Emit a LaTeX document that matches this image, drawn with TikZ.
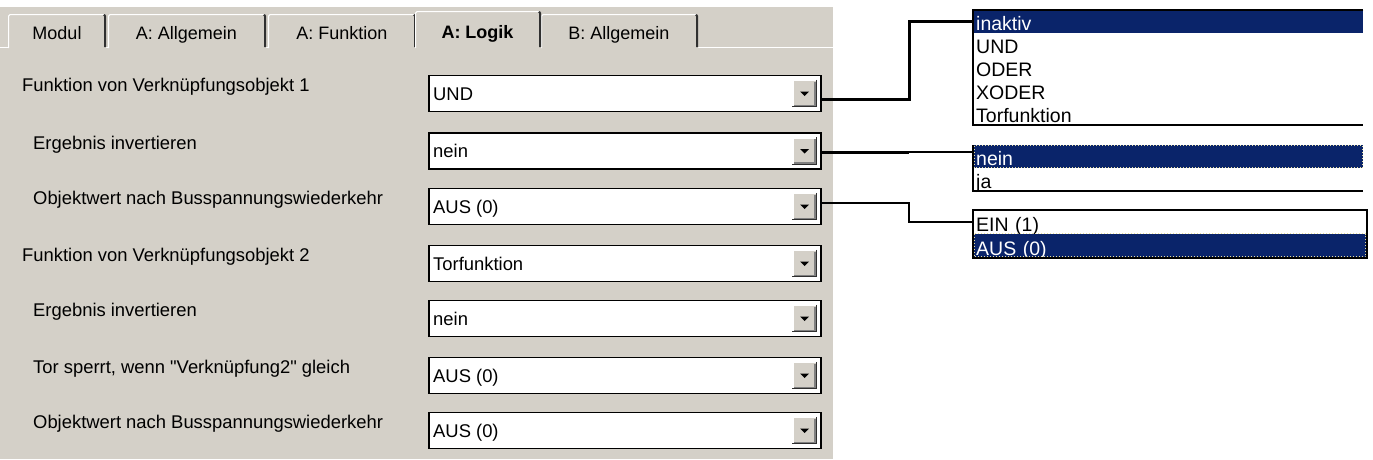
\documentclass[tikz,border=0pt]{standalone}
\usepackage{fontspec}
\setmainfont[Ligatures=TeXOff]{Liberation Sans}
\usetikzlibrary{calc}
\definecolor{winGrey}{HTML}{D4D0C8}
\definecolor{winNavy}{HTML}{0A246A}
\definecolor{winDark}{HTML}{303030}
\definecolor{winShadow}{HTML}{808080}
\definecolor{focusDot}{HTML}{E8DFA0}
\newcommand\DropBox[3]{%
  \node[ddbox] (#1) at (428,#2) {};
  \node[lbl] (#1t) at ([xshift=5pt,yshift=-6.5pt]#1.west) {#3};
  \node[ddbtn] (#1b) at ([xshift=-17pt]#1.east) {};
  \draw[white,line width=1.2pt] ([shift={(0.6pt,0.6pt)}]#1b.south west) -- ([shift={(0.6pt,-0.6pt)}]#1b.north west) -- ([shift={(-0.6pt,-0.6pt)}]#1b.north east);
  \draw[winShadow,line width=1.2pt] ([shift={(-1.8pt,-1.8pt)}]#1b.north east) -- ([shift={(-1.8pt,1.8pt)}]#1b.south east) -- ([shift={(1.8pt,1.8pt)}]#1b.south west);
  \draw[winDark,line width=1.2pt] ([shift={(-0.6pt,0pt)}]#1b.north east) -- ([shift={(-0.6pt,0.6pt)}]#1b.south east) -- ([shift={(0pt,0.6pt)}]#1b.south west);
  \fill ([shift={(-4.5pt,2pt)}]#1b.center) -- ([shift={(4.5pt,2pt)}]#1b.center) -- ([shift={(0pt,-2.5pt)}]#1b.center) -- cycle;
}
\newcommand\TabShape[3]{%
  \fill[winGrey] (#1,48) -- (#1,#3+2) -- (#1+2,#3) -- (#2-2,#3) -- (#2,#3+2) -- (#2,48) -- cycle;
  \draw[white,line width=1.2pt] (#1+0.6,48) -- (#1+0.6,#3+2) -- (#1+2,#3+0.6) -- (#2-2,#3+0.6);
  \draw[winDark,line width=2pt] (#2-2,#3+0.6) -- (#2-1,#3+2) -- (#2-1,47);
}
\begin{document}
\begin{tikzpicture}[x=1pt,y=-1pt,
  lbl/.style={anchor=base west, inner sep=0pt, font=\fontsize{18.4}{20}\selectfont},
  tabtxt/.style={anchor=base, inner sep=0pt, font=\fontsize{18}{20}\selectfont},
  ddbox/.style={draw=black, line width=1.6pt, fill=white, minimum width=392pt, minimum height=36pt, inner sep=0pt, anchor=west},
  ddbtn/.style={fill=winGrey, minimum width=24pt, minimum height=27pt, inner sep=0pt},
  lrow/.style={anchor=north west, inner xsep=3pt, inner ysep=0pt, text width=#1, text height=20pt, text depth=3pt, align=left, font=\fontsize{19.5}{21}\selectfont},
  lrow/.default=384pt,
  sel/.style={fill=winNavy, text=white},
  connthick/.style={line width=3pt},
  connthin/.style={line width=2pt},
  focus/.style={draw=focusDot, dotted, line width=1pt},
  lborder/.style={draw=black, line width=2pt}
]
\useasboundingbox (0,0) rectangle (1373,459);
\fill[white] (0,0) rectangle (1373,459);
\fill[winGrey] (0,7) rectangle (833,459);
% tab bar
\draw[white,line width=1.5pt] (0,47.5) -- (833,47.5);
\TabShape{8}{106}{14}
\TabShape{108}{266}{14}
\TabShape{268}{416}{14}
\TabShape{541}{698}{14}
\TabShape{415}{541}{11}
\fill[winGrey] (416.5,47) rectangle (538.5,50);
\node[tabtxt] (tab1) at (57,39) {Modul};
\node[tabtxt] (tab2) at (186.5,39) {A: Allgemein};
\node[tabtxt] (tab3) at (342,39) {A: Funktion};
\node[tabtxt,font=\fontsize{18}{20}\selectfont\bfseries] (tab4) at (477.5,38) {A: Logik};
\node[tabtxt] (tab5) at (619,39) {B: Allgemein};
% labels
\node[lbl] (lab1) at (22,91.5) {Funktion von Verknüpfungsobjekt 1};
\node[lbl] (lab2) at (33,149) {Ergebnis invertieren};
\node[lbl] (lab3) at (33,204.5) {Objektwert nach Busspannungswiederkehr};
\node[lbl] (lab4) at (22,261.5) {Funktion von Verknüpfungsobjekt 2};
\node[lbl] (lab5) at (33,316.5) {Ergebnis invertieren};
\node[lbl] (lab6) at (33,373.5) {Tor sperrt, wenn "Verknüpfung2" gleich};
\node[lbl] (lab7) at (33,428.5) {Objektwert nach Busspannungswiederkehr};
% dropdowns
\DropBox{dd1}{93.5}{UND}
\DropBox{dd2}{151}{nein}
\DropBox{dd3}{206.5}{AUS (0)}
\DropBox{dd4}{263.5}{Torfunktion}
\DropBox{dd5}{318.5}{nein}
\DropBox{dd6}{375.5}{AUS (0)}
\DropBox{dd7}{430.5}{AUS (0)}
% list 1
\node[lrow,sel] (l1a) at (973,10) {inaktiv};
\node[lrow,fill=white] (l1b) at (973,33) {UND};
\node[lrow,fill=white] (l1c) at (973,56) {ODER};
\node[lrow,fill=white] (l1d) at (973,79) {XODER};
\node[lrow,fill=white] (l1e) at (973,102) {Torfunktion};
\draw[lborder] (l1a.north east) -- (l1a.north west) -- (l1e.south west) -- (l1e.south east);
% list 2
\node[lrow,sel] (l2a) at (973,145) {nein};
\node[lrow,fill=white] (l2b) at (973,168) {ja};
\draw[focus] ([shift={(1.5pt,-0.5pt)}]l2a.north west) rectangle ([shift={(-0.5pt,0.5pt)}]l2a.south east);
\draw[lborder] (l2a.north west) -- (l2b.south west) -- (l2b.south east);
% list 3
\node[lrow=388pt,fill=white,text height=21pt] (l3a) at (973,210) {EIN (1)};
\node[lrow=388pt,sel,text height=21pt] (l3b) at (973,234) {AUS (0)};
\draw[focus] ([shift={(1.5pt,0.5pt)}]l3b.north west) rectangle ([shift={(-1.5pt,1.5pt)}]l3b.south east);
\draw[lborder] (l3a.north west) rectangle (l3b.south east);
% connectors
\coordinate (bendA) at (909,0);
\draw[connthick] ([yshift=-5.5pt]dd1.east) -| (bendA |- l1a.west) -- (l1a.west);
\coordinate (c2s) at ([yshift=-1pt]dd2.east);
\draw[connthick] (c2s) -- (bendA |- c2s);
\draw[connthin] (bendA |- c2s) -- (l2a.west |- c2s);
\coordinate (c3s) at ([yshift=4pt]dd3.east);
\draw[connthin] (c3s) -| (bendA |- l3a.west) -- (l3a.west);
\end{tikzpicture}
\end{document}
